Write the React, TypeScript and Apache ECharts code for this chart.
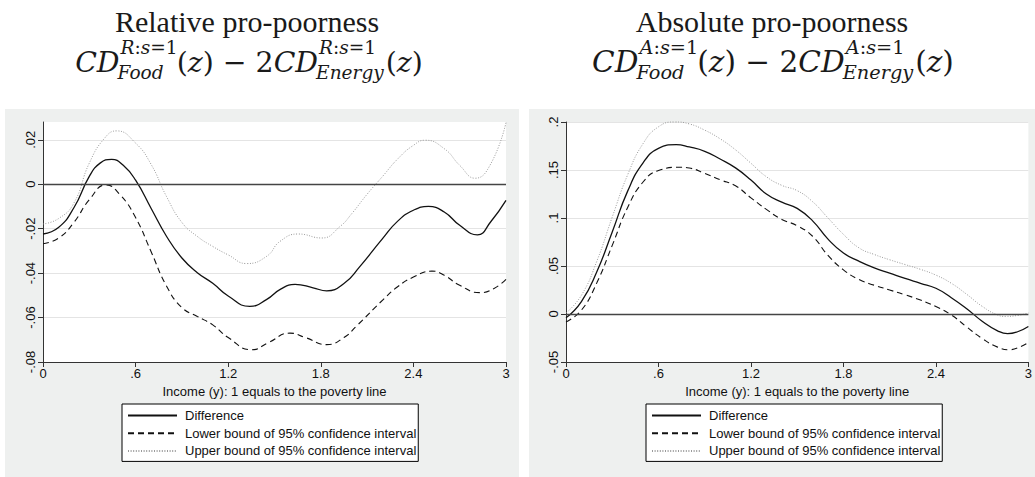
import React, { useEffect, useRef } from "react";
import * as echarts from "echarts";

// ---------- data: [income, value] ----------
const relDiff = [[0, -0.0224], [0.1, -0.0195], [0.2, -0.0106], [0.3, 0.0035], [0.37, 0.0095], [0.445, 0.0112], [0.52, 0.0085], [0.6, 0.0018], [0.7, -0.0108], [0.8, -0.0234], [0.9, -0.0332], [1.0, -0.0398], [1.1, -0.0446], [1.2, -0.0503], [1.34, -0.055], [1.45, -0.0518], [1.54, -0.0472], [1.633, -0.0451], [1.75, -0.0466], [1.838, -0.048], [1.95, -0.0447], [2.05, -0.0373], [2.2, -0.0245], [2.3, -0.0165], [2.4, -0.0117], [2.497, -0.01], [2.6, -0.0125], [2.7, -0.0185], [2.815, -0.0228], [2.9, -0.017], [3.0, -0.0073]];
const relLower = [[0, -0.0268], [0.1, -0.0243], [0.2, -0.0172], [0.3, -0.007], [0.408, -0.0003], [0.5, -0.0048], [0.6, -0.015], [0.7, -0.0303], [0.8, -0.0458], [0.9, -0.0555], [1.0, -0.0595], [1.1, -0.0633], [1.2, -0.069], [1.352, -0.0745], [1.46, -0.0713], [1.6, -0.067], [1.7, -0.069], [1.838, -0.0722], [1.95, -0.069], [2.033, -0.0637], [2.206, -0.0518], [2.3, -0.046], [2.4, -0.0418], [2.52, -0.0391], [2.6, -0.041], [2.7, -0.0455], [2.832, -0.0488], [2.92, -0.047], [3.0, -0.0428]];
const relUpper = [[0, -0.0179], [0.1, -0.0155], [0.2, -0.0085], [0.3, 0.0095], [0.4, 0.0208], [0.477, 0.024], [0.6, 0.0185], [0.7, 0.009], [0.8, -0.0055], [0.9, -0.0172], [1.0, -0.0235], [1.1, -0.028], [1.2, -0.0318], [1.32, -0.0357], [1.45, -0.0324], [1.536, -0.0257], [1.655, -0.0224], [1.806, -0.0242], [1.925, -0.019], [2.0, -0.0133], [2.1, -0.0045], [2.2, 0.0035], [2.3, 0.0115], [2.4, 0.0175], [2.476, 0.0198], [2.6, 0.016], [2.7, 0.0085], [2.8, 0.0027], [2.9, 0.009], [3.0, 0.0277]];

const absDiff = [[0, -0.004], [0.1, 0.013], [0.2, 0.044], [0.3, 0.0855], [0.4, 0.128], [0.5, 0.1575], [0.6, 0.1725], [0.715, 0.1764], [0.8, 0.174], [0.9, 0.1695], [1.0, 0.1615], [1.1, 0.1522], [1.2, 0.1395], [1.3, 0.125], [1.4, 0.1165], [1.5, 0.11], [1.6, 0.097], [1.7, 0.078], [1.8, 0.0635], [1.9, 0.055], [2.0, 0.048], [2.1, 0.0425], [2.2, 0.037], [2.3, 0.032], [2.4, 0.0268], [2.5, 0.017], [2.6, 0.0055], [2.7, -0.0075], [2.8, -0.0175], [2.865, -0.0205], [2.93, -0.0185], [3.0, -0.013]];
const absLower = [[0, -0.0083], [0.1, 0.004], [0.2, 0.0325], [0.3, 0.0715], [0.4, 0.111], [0.5, 0.1375], [0.6, 0.1495], [0.737, 0.1528], [0.8, 0.152], [0.9, 0.1465], [1.0, 0.1398], [1.1, 0.1335], [1.2, 0.121], [1.3, 0.109], [1.4, 0.0985], [1.5, 0.092], [1.6, 0.081], [1.7, 0.061], [1.8, 0.046], [1.9, 0.036], [2.0, 0.03], [2.1, 0.025], [2.2, 0.02], [2.3, 0.0145], [2.4, 0.0078], [2.5, -0.001], [2.6, -0.0135], [2.7, -0.0255], [2.8, -0.0345], [2.877, -0.0372], [2.95, -0.034], [3.0, -0.0296]];
const absUpper = [[0, 0.001], [0.1, 0.0195], [0.2, 0.055], [0.3, 0.101], [0.4, 0.145], [0.5, 0.1775], [0.6, 0.195], [0.706, 0.2], [0.8, 0.198], [0.9, 0.1915], [1.0, 0.1825], [1.1, 0.171], [1.2, 0.157], [1.3, 0.143], [1.4, 0.134], [1.5, 0.1285], [1.6, 0.117], [1.7, 0.1], [1.8, 0.083], [1.9, 0.069], [2.0, 0.062], [2.1, 0.0565], [2.2, 0.0515], [2.3, 0.0465], [2.4, 0.0405], [2.5, 0.032], [2.6, 0.0205], [2.7, 0.008], [2.8, -0.001], [2.85, -0.0025], [2.93, -0.0015], [3.0, 0.001]];

const xTicks = [0, 0.6, 1.2, 1.8, 2.4, 3];
const relYTicks = [-0.08, -0.06, -0.04, -0.02, 0, 0.02];
const absYTicks = [-0.05, 0, 0.05, 0.1, 0.15, 0.2];

const seriesNames = [
  "Difference",
  "Lower bound of 95% confidence interval",
  "Upper bound of 95% confidence interval",
];
const panelTitles = ["Relative pro-poorness", "Absolute pro-poorness"];
const panelLetters = ["R", "A"];
const xAxisTitle = "Income (y): 1 equals to the poverty line";

// ---------- style ----------
const SANS = '"Liberation Sans", Arial, sans-serif';
const SERIF = '"Liberation Serif", "Times New Roman", serif';
const MATH = '"DejaVu Serif", "Liberation Serif", serif';
const PANEL_BG = "#eef0ef";
const INK = "#111";

type Part = { t: string; it: boolean };
const I = (t: string): Part => ({ t, it: true });
const U = (t: string): Part => ({ t, it: false });

let measureCtx: CanvasRenderingContext2D | null = null;
function partsWidth(parts: Part[], size: number): number {
  if (!measureCtx) measureCtx = document.createElement("canvas").getContext("2d");
  let w = 0;
  for (const p of parts) {
    measureCtx!.font = `${p.it ? "italic " : ""}${size}px ${MATH}`;
    w += measureCtx!.measureText(p.t).width;
  }
  return w;
}

function richOf(parts: Part[], size: number) {
  return {
    text: parts.map((p) => `{${p.it ? "i" : "u"}|${p.t}}`).join(""),
    rich: {
      i: { fontStyle: "italic", fontSize: size, fontFamily: MATH, fill: "#1a1a1a", lineHeight: size * 0.8 },
      u: { fontStyle: "normal", fontSize: size, fontFamily: MATH, fill: "#1a1a1a", lineHeight: size * 0.8 },
    },
  };
}

function mathLine(cx: number, cy: number, letter: string, target: number) {
  const supParts = [I(letter), U(":"), I("s"), U("=1")];
  type Atom = { run?: Part[]; sup?: Part[]; sub?: Part[] };
  const atoms: Atom[] = [
    { run: [I("C"), I("D")] },
    { sup: supParts, sub: [I("Food")] },
    { run: [U("("), I("z"), U(")"), U(" \u2212 "), U("2"), I("C"), I("D")] },
    { sup: supParts, sub: [I("Energy")] },
    { run: [U("("), I("z"), U(")")] },
  ];
  const measure = (M: number, S: number) =>
    atoms.map((a) => (a.run ? partsWidth(a.run, M) : Math.max(partsWidth(a.sup!, S), partsWidth(a.sub!, S))));
  const base = measure(26, 17).reduce((s, w) => s + w, 0);
  const k = Math.max(0.85, Math.min(1.2, target / base));
  const M = 26 * k;
  const S = 17 * k;
  const widths = measure(M, S);
  const total = widths.reduce((s, w) => s + w, 0);
  let x = cx - total / 2;
  const els: any[] = [];
  atoms.forEach((a, i) => {
    if (a.run) {
      els.push({ type: "text", x, y: cy, style: { ...richOf(a.run, M), align: "left", verticalAlign: "middle" } });
    } else {
      els.push({ type: "text", x: x + 1, y: cy - 15, style: { ...richOf(a.sup!, S), align: "left", verticalAlign: "middle" } });
      els.push({ type: "text", x: x - 2, y: cy + 10, style: { ...richOf(a.sub!, S), align: "left", verticalAlign: "middle" } });
    }
    x += widths[i];
  });
  return els;
}

const stataFmt = (v: number) => {
  const r = Math.round(v * 1000) / 1000;
  if (r === 0) return "0";
  return String(r).replace(/^(-?)0\./, "$1.");
};

export default function App() {
  const ref = useRef<HTMLDivElement>(null);

  useEffect(() => {
    if (!ref.current) return;
    const chart = echarts.init(ref.current, undefined, { renderer: "svg" });

    const grids = [
      { left: 43, top: 122, width: 463, height: 240 },
      { left: 566, top: 122, width: 463, height: 240 },
    ];
    const panelRects = [
      { x: 5, y: 109, width: 514, height: 368 },
      { x: 529, y: 109, width: 506, height: 368 },
    ];
    const titleCx = [247, 772];
    const mathCx = [249, 773];
    const mathTarget = [348, 362];
    const yRanges = [
      { min: -0.08, max: 0.028, interval: 0.02, ticks: relYTicks },
      { min: -0.05, max: 0.2, interval: 0.05, ticks: absYTicks },
    ];
    const panelData = [
      [relDiff, relLower, relUpper],
      [absDiff, absLower, absUpper],
    ];
    const lineStyles = [
      { color: INK, width: 1.3, type: "solid" as any },
      { color: INK, width: 1.1, type: [6, 4] as any },
      { color: "#9a9a9a", width: 1, type: [1, 1.6] as any },
    ];

    const graphic: any[] = [];
    panelRects.forEach((r) =>
      graphic.push({ type: "rect", z: -10, silent: true, shape: r, style: { fill: PANEL_BG } })
    );
    panelTitles.forEach((t, i) => {
      graphic.push({
        type: "text",
        x: titleCx[i],
        y: 21,
        style: { text: t, fontFamily: SERIF, fontSize: 30, fill: "#1a1a1a", align: "center", verticalAlign: "middle" },
      });
      mathLine(mathCx[i], 62, panelLetters[i], mathTarget[i]).forEach((e) => graphic.push(e));
    });

    const option: any = {
      animation: false,
      graphic,
      grid: grids.map((g) => ({ ...g, show: true, backgroundColor: "#fff", borderWidth: 0, containLabel: false })),
      xAxis: grids.map((_, i) => ({
        type: "value",
        gridIndex: i,
        min: 0,
        max: 3,
        interval: 0.6,
        name: xAxisTitle,
        nameLocation: "middle",
        nameGap: 21,
        nameTextStyle: { fontFamily: SANS, fontSize: 13, color: INK },
        axisLine: { show: true, onZero: false, lineStyle: { color: "#333", width: 1 } },
        axisTick: { show: true, length: 5, lineStyle: { color: "#333" }, customValues: xTicks },
        axisLabel: { fontFamily: SANS, fontSize: 13, color: INK, margin: 5, formatter: stataFmt, customValues: xTicks },
        splitLine: { show: false },
      })),
      yAxis: grids.map((_, i) => ({
        type: "value",
        gridIndex: i,
        min: yRanges[i].min,
        max: yRanges[i].max,
        interval: yRanges[i].interval,
        axisLine: { show: true, onZero: false, lineStyle: { color: "#333", width: 1 } },
        axisTick: { show: true, length: 5, lineStyle: { color: "#333" }, customValues: yRanges[i].ticks },
        axisLabel: {
          fontFamily: SANS,
          fontSize: 13,
          color: INK,
          rotate: 90,
          margin: 6,
          formatter: stataFmt,
          customValues: yRanges[i].ticks,
        },
        splitLine: { show: true, lineStyle: { color: "#e4e4e4", width: 1 } },
      })),
      legend: [122, 646].map((left) => ({
        left,
        top: 404,
        orient: "vertical",
        data: seriesNames,
        selectedMode: false,
        itemWidth: 49,
        itemHeight: 14,
        itemGap: 4.7,
        padding: [5, 2, 4, 5],
        borderColor: "#000",
        borderWidth: 1,
        borderRadius: 0,
        backgroundColor: "#fff",
        itemStyle: { opacity: 0 },
        textStyle: { fontFamily: SANS, fontSize: 13, color: INK, padding: [0, 0, 0, 3] },
      })),
      series: panelData.flatMap((arrs, i) =>
        arrs.map((pts, k) => ({
          type: "line",
          name: seriesNames[k],
          xAxisIndex: i,
          yAxisIndex: i,
          data: pts,
          symbol: "none",
          smooth: 0.5,
          clip: false,
          color: lineStyles[k].color,
          lineStyle: lineStyles[k],
          z: 3 - k,
          markLine:
            k === 0
              ? {
                  silent: true,
                  symbol: ["none", "none"],
                  label: { show: false },
                  lineStyle: { color: "#444", width: 1.3, type: "solid" },
                  data: [{ yAxis: 0 }],
                }
              : undefined,
        }))
      ),
    };

    chart.setOption(option);
    return () => chart.dispose();
  }, []);

  return <div ref={ref} style={{ position: "absolute", left: 0, top: 0, width: 1035, height: 477 }} />;
}
